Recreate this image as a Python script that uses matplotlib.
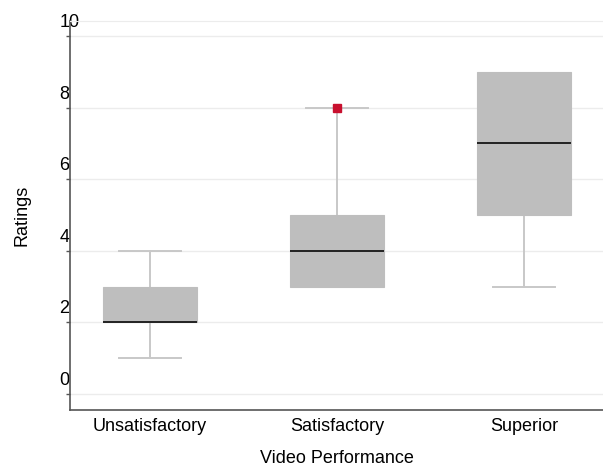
import matplotlib
matplotlib.use("Agg")
import matplotlib.pyplot as plt
from matplotlib.transforms import ScaledTranslation

plt.rcParams['font.family'] = ['Liberation Sans', 'DejaVu Sans']

# box summary values
categories = ['Unsatisfactory', 'Satisfactory', 'Superior']
whislo = [1, 3, 3]
q1 = [2, 3, 5]
med = [2, 4, 7]
q3 = [3, 5, 9]
whishi = [4, 8, 9]
fliers = [[], [8], []]

stats = []
for i in range(len(categories)):
    stats.append(dict(label=categories[i], whislo=whislo[i], q1=q1[i], med=med[i],
                      q3=q3[i], whishi=whishi[i], fliers=fliers[i]))

fig = plt.figure(figsize=(6.03, 4.68), dpi=100)
ax = fig.add_axes([70/603, 58/468, 533/603, 389/468])

parts = ax.bxp(stats, positions=[1, 2, 3], widths=0.5, patch_artist=True,
       boxprops=dict(facecolor='#bebebe', edgecolor='#bebebe', linewidth=0.8, zorder=3),
       medianprops=dict(color='#222222', linewidth=1.4, zorder=4),
       whiskerprops=dict(color='#c8c8c8', linewidth=1.4, zorder=2),
       capprops=dict(color='#c8c8c8', linewidth=1.4, zorder=2),
       capwidths=0.33,
       flierprops=dict(marker='s', markersize=6, markerfacecolor='#c8102e',
                       markeredgecolor='#c8102e', zorder=5))

# no cap when the whisker has zero length
for i in range(len(categories)):
    if whislo[i] == q1[i]:
        parts['caps'][2*i].set_visible(False)
    if whishi[i] == q3[i]:
        parts['caps'][2*i+1].set_visible(False)

ax.set_xlim(0.572, 3.422)
ax.set_ylim(-0.45, 10.42)
ax.set_yticks([0, 2, 4, 6, 8, 10])
ax.grid(axis='y', color='#ececec', linewidth=1)
ax.set_axisbelow(True)

ax.spines['right'].set_visible(False)
ax.spines['top'].set_color('#ececec')
ax.spines['left'].set_color('#555555')
ax.spines['bottom'].set_color('#555555')
ax.spines['left'].set_linewidth(1.2)
ax.spines['bottom'].set_linewidth(1.2)

ax.tick_params(axis='x', length=0, pad=6, labelsize=13)
ax.tick_params(axis='y', length=3, width=1, color='#555555', pad=4.5, labelsize=13)
off = ScaledTranslation(0, 5/100, fig.dpi_scale_trans)
for lab in ax.get_yticklabels():
    lab.set_horizontalalignment('left')
    lab.set_verticalalignment('bottom')
    lab.set_transform(lab.get_transform() + off)

ax.set_ylabel('Ratings', fontsize=13)
ax.yaxis.set_label_coords((31-70)/533, (410-215)/389)
ax.set_xlabel('Video Performance', fontsize=13)
ax.xaxis.set_label_coords((337-70)/533, -(450-410)/389)

fig.savefig('out.png', dpi=100)
